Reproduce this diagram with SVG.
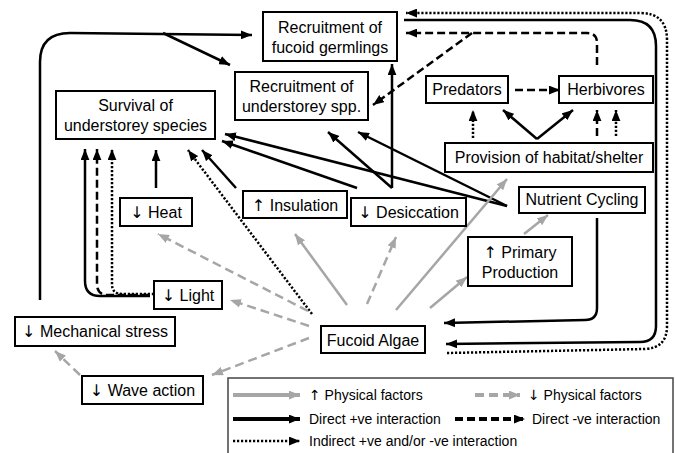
<svg xmlns="http://www.w3.org/2000/svg" width="675" height="453" viewBox="0 0 675 453">
<defs>
<marker id="ab" markerUnits="userSpaceOnUse" viewBox="0 0 10 8" markerWidth="11" markerHeight="9" refX="10" refY="4" orient="auto"><path d="M0,0 L10,4 L0,8 z" fill="#000"/></marker>
<marker id="ag" markerUnits="userSpaceOnUse" viewBox="0 0 10 8" markerWidth="11" markerHeight="9" refX="10" refY="4" orient="auto"><path d="M0,0 L10,4 L0,8 z" fill="#a6a6a6"/></marker>
<style>
.box{fill:#fff;stroke:#000;stroke-width:2}
text{font-family:"Liberation Sans",Arial,sans-serif;font-size:16px;fill:#000;text-anchor:middle}
.ar{font-family:"DejaVu Sans",sans-serif;fill:#000}
.lg{font-size:14px;text-anchor:start}
.k{fill:none;stroke:#000;stroke-width:2.5;marker-end:url(#ab)}
.dash{stroke-dasharray:8 4}
.dot{stroke-dasharray:2.2 1.8}
.g{fill:none;stroke:#a6a6a6;stroke-width:2.5;marker-end:url(#ag)}
.gd{stroke-dasharray:9 5}
</style>
</defs>
<rect width="675" height="453" fill="#fff"/>

<g id="connectors">
<path class="k" d="M40,300 L40,62 Q40,33 70,33 L252,35"/>
<path class="k" d="M163,33 L230,65"/>
<path class="k" d="M150,296 L100,296 Q85,296 85,281 L85,149"/>
<path class="k dash" d="M150,295 L108,295 Q97,295 97,284 L97,149"/>
<path class="k dot" d="M154,294 L122,294 Q112,294 112,284 L112,149"/>
<path class="k" d="M156,188 L156,150"/>
<path class="k" d="M236,188 L202,150"/>
<path class="k dot" d="M312,314 L188,150"/>
<path class="k" d="M507,206 L225,134"/>
<path class="k" d="M507,206 L358,132"/>
<path class="k" d="M357,188 L222,141"/>
<path class="k" d="M392,188 L328,132"/>
<path class="k" d="M392,188 L392,64"/>
<path class="k" d="M537,139 L503,110"/>
<path class="k" d="M537,139 L573,110"/>
<path class="k dot" d="M473,138 L473,110"/>
<path class="k dash" d="M597,136 L597,110"/>
<path class="k dot" d="M616,136 L616,110"/>
<path class="k dash" d="M515,90 L560,90"/>
<path class="k dash" d="M597,65 L597,43 Q597,33 587,33 L406,33"/>
<path class="k dash" d="M472,33 L373,105"/>
<path class="k" d="M404,20 L630,20 Q656,20 656,46 L656,326 Q656,342 640,342 L446,344"/>
<path class="k" d="M597,218 L597,308 Q597,320 585,320 L444,323"/>
<path class="k dot" d="M447,353 L645,349 Q667,348 667,326 L667,40 Q667,13 640,13 L406,13"/>
<path class="g" d="M347,305 L295,234"/>
<path class="g gd" d="M367,304 L396,237"/>
<path class="g" d="M396,310 L507,179"/>
<path class="g" d="M430,308 L467,277"/>
<path class="g" d="M524,234 L548,215"/>
<path class="g gd" d="M308,311 L158,234"/>
<path class="g gd" d="M309,326 L230,300"/>
<path class="g gd" d="M309,338 L212,375"/>
<path class="g gd" d="M80,375 L55,351"/>
</g>

<g id="recruit-fucoid"><rect class="box" x="263" y="12" width="134" height="49"/><text x="330" y="33">Recruitment of</text><text x="330" y="53">fucoid germlings</text></g>
<g id="recruit-understorey"><rect class="box" x="235" y="72" width="133" height="48"/><text x="301.5" y="92">Recruitment of</text><text x="301.5" y="112">understorey spp.</text></g>
<g id="survival"><rect class="box" x="56" y="91" width="159" height="48"/><text x="135.5" y="111">Survival of</text><text x="135.5" y="131">understorey species</text></g>
<g id="heat"><rect class="box" x="120" y="198" width="72" height="28"/><text x="156" y="218"><tspan class="ar">↓</tspan> Heat</text></g>
<g id="insulation"><rect class="box" x="243" y="191" width="104" height="27"/><text x="295" y="211"><tspan class="ar">↑</tspan> Insulation</text></g>
<g id="desiccation"><rect class="box" x="351" y="198" width="115" height="28"/><text x="408.5" y="218"><tspan class="ar">↓</tspan> Desiccation</text></g>
<g id="predators"><rect class="box" x="426" y="76" width="82" height="27"/><text x="467" y="95">Predators</text></g>
<g id="herbivores"><rect class="box" x="559" y="76" width="94" height="27"/><text x="606" y="95">Herbivores</text></g>
<g id="provision"><rect class="box" x="445" y="143" width="208" height="29"/><text x="549" y="163">Provision of habitat/shelter</text></g>
<g id="nutrient"><rect class="box" x="519" y="187" width="126" height="26"/><text x="582" y="205">Nutrient Cycling</text></g>
<g id="primary"><rect class="box" x="468" y="237" width="104" height="49"/><text x="520" y="258"><tspan class="ar">↑</tspan> Primary</text><text x="520" y="278">Production</text></g>
<g id="fucoid"><rect class="box" x="321" y="326" width="104" height="27"/><text x="373" y="346">Fucoid Algae</text></g>
<g id="light"><rect class="box" x="154" y="281" width="68" height="28"/><text x="188" y="301"><tspan class="ar">↓</tspan> Light</text></g>
<g id="mechanical"><rect class="box" x="15" y="317" width="160" height="29"/><text x="95" y="337"><tspan class="ar">↓</tspan> Mechanical stress</text></g>
<g id="wave"><rect class="box" x="82" y="376" width="121" height="28"/><text x="142.5" y="396"><tspan class="ar">↓</tspan> Wave action</text></g>

<g id="legend">
<rect x="228" y="378" width="445" height="80" fill="#fff" stroke="#444" stroke-width="1.5"/>
<path class="g" d="M233,395 L300,395" style="stroke-width:4"/>
<text class="lg" x="309" y="400"><tspan class="ar">↑</tspan> Physical factors</text>
<path class="g gd" d="M475,395 L520,395" style="stroke-width:4"/>
<text class="lg" x="528" y="400"><tspan class="ar">↓</tspan> Physical factors</text>
<path class="k" d="M233,419 L300,419" style="stroke-width:4"/>
<text class="lg" x="309" y="424">Direct +ve interaction</text>
<path class="k dash" d="M455,419 L525,419" style="stroke-width:4"/>
<text class="lg" x="532" y="424">Direct -ve interaction</text>
<path class="k dot" d="M233,441 L300,441"/>
<text class="lg" x="309" y="446">Indirect +ve and/or -ve interaction</text>
</g>
</svg>
